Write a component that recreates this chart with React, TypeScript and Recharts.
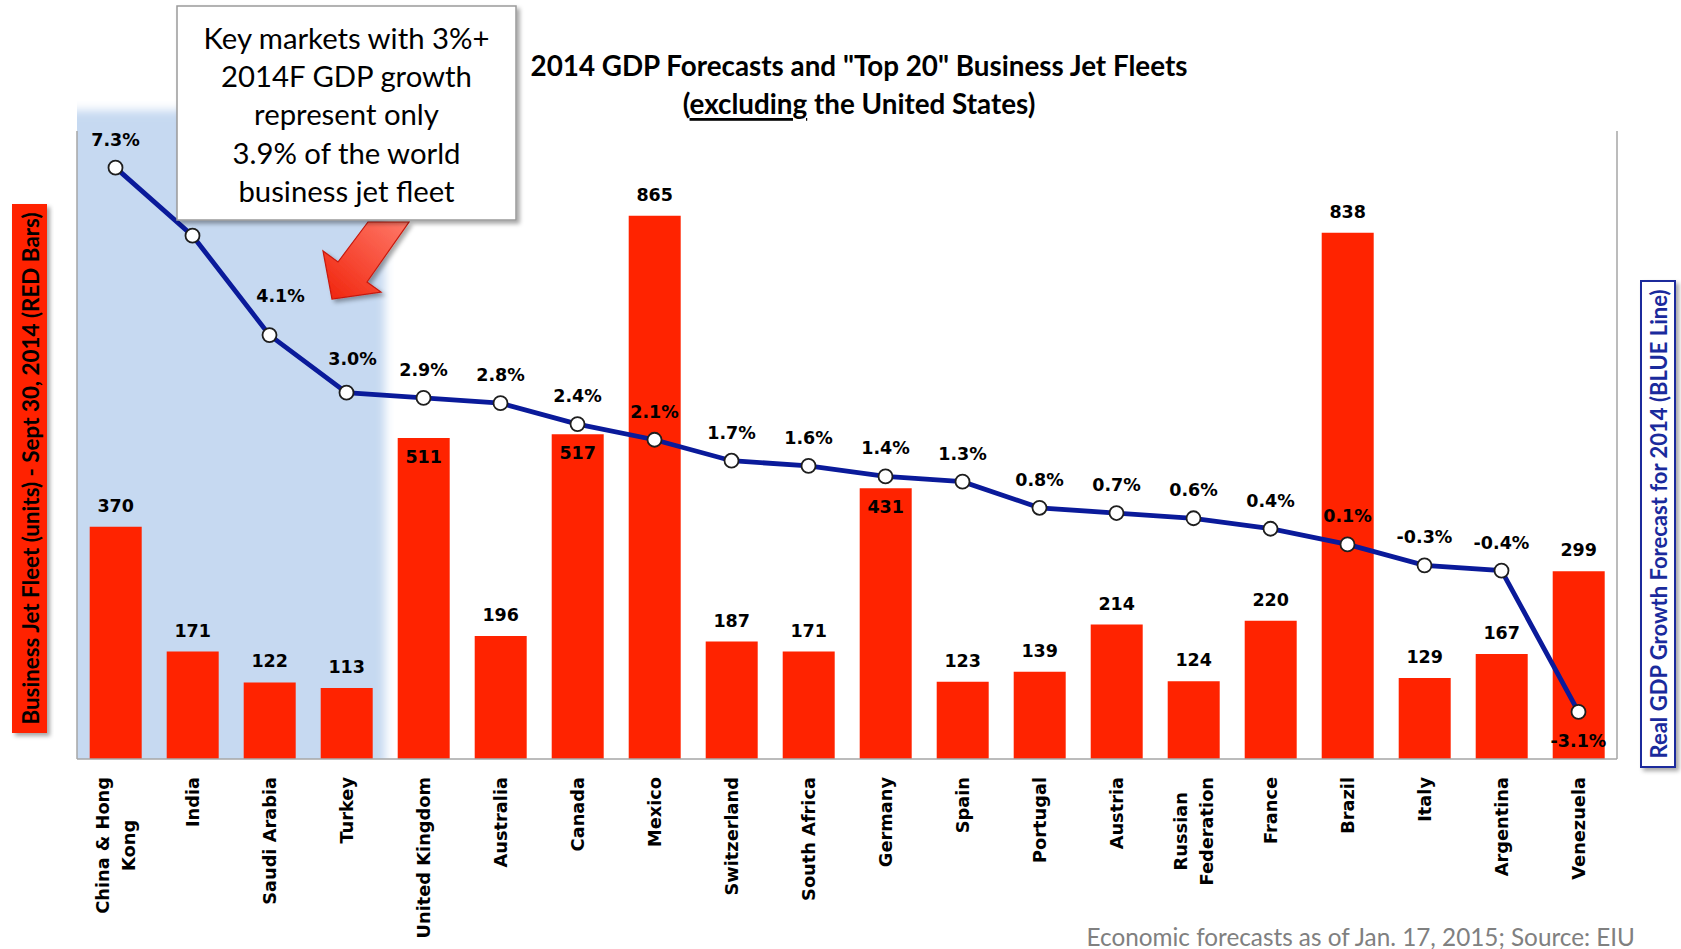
import React from "react";
import {
  ComposedChart,
  Bar,
  Line,
  XAxis,
  YAxis,
  LabelList,
  ReferenceArea,
} from "recharts";

// Top 20 business jet fleets outside the US, with 2014 GDP forecast
const countries = [
  "China & Hong\nKong",
  "India",
  "Saudi Arabia",
  "Turkey",
  "United Kingdom",
  "Australia",
  "Canada",
  "Mexico",
  "Switzerland",
  "South Africa",
  "Germany",
  "Spain",
  "Portugal",
  "Austria",
  "Russian\nFederation",
  "France",
  "Brazil",
  "Italy",
  "Argentina",
  "Venezuela",
];
const fleetUnits = [370, 171, 122, 113, 511, 196, 517, 865, 187, 171, 431, 123, 139, 214, 124, 220, 838, 129, 167, 299];
const gdpGrowth = [7.3, 6.0, 4.1, 3.0, 2.9, 2.8, 2.4, 2.1, 1.7, 1.6, 1.4, 1.3, 0.8, 0.7, 0.6, 0.4, 0.1, -0.3, -0.4, -3.1];
const fleetDomain = [0, 1000];
const growthTicks = [-4, -2, 0, 2, 4, 6, 8];
const highlighted = ["China & Hong\nKong", "Turkey"];
// bar labels that sit inside the bar top (the line runs just above them)
const insideLabels = ["United Kingdom", "Canada", "Germany"];
// India's growth label is hidden under the callout in the original
const hiddenGrowthLabels = ["India"];
// small nudges where the line is steep
const growthLabelNudge: Record<string, [number, number]> = {
  "Saudi Arabia": [11, -11],
  Turkey: [6, -6],
};

const calloutLines = [
  "Key markets with 3%+",
  "2014F GDP growth",
  "represent only",
  "3.9% of the world",
  "business jet fleet",
];

const data = countries.map((name, i) => ({
  name,
  fleet: fleetUnits[i],
  gdp: gdpGrowth[i],
}));

const RED = "#ff2300";
const BLUE = "#0a1a9a";
const AXIS = "#a6a6a6";
const LABEL_FONT = "'DejaVu Sans', Verdana, sans-serif";
const TITLE_FONT = "Lato, 'Open Sans', sans-serif";
const TICK_SIZE = 17.8;

let measureCtx: CanvasRenderingContext2D | null = null;
function textWidth(s: string) {
  if (!measureCtx) {
    measureCtx = document.createElement("canvas").getContext("2d");
  }
  if (!measureCtx) return s.length * TICK_SIZE * 0.62;
  measureCtx.font = `bold ${TICK_SIZE}px 'DejaVu Sans'`;
  return measureCtx.measureText(s).width;
}

// rotated category labels; wrapped lines are centred on each other
const CountryTick = ({ x, y, payload }: any) => {
  const lines = String(payload.value).split("\n");
  const lh = 26;
  const block = Math.max(...lines.map(textWidth));
  return (
    <g transform={`translate(${x},${y + 18}) rotate(-90)`}>
      <text textAnchor="middle" fontFamily={LABEL_FONT} fontWeight="bold" fontSize={TICK_SIZE} fill="#000">
        {lines.map((l, i) => (
          <tspan key={i} x={-block / 2} y={(i - (lines.length - 1) / 2) * lh} dominantBaseline="central">
            {l}
          </tspan>
        ))}
      </text>
    </g>
  );
};

const FleetLabel = (props: any) => {
  const { x, y, width, value, index } = props;
  const inside = insideLabels.includes(countries[index]);
  return (
    <text
      x={x + width / 2}
      y={inside ? y + 19 : y - 21}
      textAnchor="middle"
      dominantBaseline="central"
      fontFamily={LABEL_FONT}
      fontWeight="bold"
      fontSize={17.5}
      fill="#000"
    >
      {value}
    </text>
  );
};

const GrowthLabel = (props: any) => {
  const { x, y, value, index } = props;
  const name = countries[index];
  if (hiddenGrowthLabels.includes(name)) return null;
  const [dx, dy] = growthLabelNudge[name] || [0, 0];
  const below = value < -1;
  return (
    <text
      x={x + dx}
      y={(below ? y + 29 : y - 28) + dy}
      textAnchor="middle"
      dominantBaseline="central"
      fontFamily={LABEL_FONT}
      fontWeight="bold"
      fontSize={17.5}
      fill="#000"
    >
      {value.toFixed(1)}%
    </text>
  );
};

const GrowthDot = (props: any) => {
  const { cx, cy, index } = props;
  return (
    <circle key={`dot-${index}`} cx={cx} cy={cy} r={7} fill="#fff" stroke="#1e1e1e" strokeWidth={1.8} />
  );
};

// soft-edged highlight behind the 3%+ markets
const Highlight = (props: any) => {
  const { x, y, width, height } = props;
  return (
    <g>
      <defs>
        <filter id="hlBlur" x="-20%" y="-20%" width="140%" height="140%">
          <feGaussianBlur stdDeviation="5" />
        </filter>
        <clipPath id="hlClip">
          <rect x={x} y={y - 30} width={width + 30} height={height + 30} />
        </clipPath>
      </defs>
      <g clipPath="url(#hlClip)">
        <rect x={x - 20} y={y} width={width + 20} height={height + 20} fill="#c6d9f1" filter="url(#hlBlur)" />
      </g>
    </g>
  );
};

export default function App() {
  return (
    <div style={{ position: "absolute", left: 0, top: 0, width: 1681, height: 949, background: "#fff" }}>
      <ComposedChart
        width={1681}
        height={949}
        data={data}
        margin={{ top: 131, right: 63, bottom: 40, left: 76 }}
        barCategoryGap="16.5%"
      >
        <XAxis
          dataKey="name"
          interval={0}
          tickLine={false}
          tickSize={0}
          tickMargin={0}
          height={150}
          axisLine={{ stroke: AXIS, strokeWidth: 1.5 }}
          tick={<CountryTick />}
        />
        <YAxis
          yAxisId="left"
          width={1}
          domain={fleetDomain}
          tick={false}
          tickLine={false}
          axisLine={{ stroke: AXIS, strokeWidth: 1.5 }}
        />
        <YAxis
          yAxisId="right"
          orientation="right"
          width={1}
          domain={[-4, 8]}
          ticks={growthTicks}
          tick={false}
          tickSize={6}
          tickLine={{ stroke: AXIS, strokeWidth: 1.5 }}
          axisLine={{ stroke: AXIS, strokeWidth: 1.5 }}
        />
        <ReferenceArea
          yAxisId="left"
          x1={highlighted[0]}
          x2={highlighted[1]}
          y1={0}
          y2={1033}
          ifOverflow="visible"
          shape={<Highlight />}
        />
        <Bar yAxisId="left" dataKey="fleet" fill={RED} isAnimationActive={false}>
          <LabelList dataKey="fleet" content={<FleetLabel />} />
        </Bar>
        <Line
          yAxisId="right"
          dataKey="gdp"
          stroke={BLUE}
          strokeWidth={4.8}
          dot={<GrowthDot />}
          activeDot={false}
          isAnimationActive={false}
        >
          <LabelList dataKey="gdp" content={<GrowthLabel />} />
        </Line>
      </ComposedChart>

      <svg
        width={1681}
        height={949}
        style={{ position: "absolute", left: 0, top: 0, pointerEvents: "none" }}
      >
        <defs>
          <linearGradient id="arrowFill" x1="1" y1="0" x2="0" y2="1">
            <stop offset="0%" stopColor="#ff7a6a" />
            <stop offset="100%" stopColor="#f0220a" />
          </linearGradient>
          <filter id="shadow" x="-10%" y="-10%" width="130%" height="130%">
            <feDropShadow dx="3" dy="3" stdDeviation="2" floodColor="#000" floodOpacity="0.35" />
          </filter>
        </defs>

        {/* title */}
        <text x={859} y={65} textAnchor="middle" dominantBaseline="central" fontFamily={TITLE_FONT} fontWeight="bold" fontSize={27.8} fill="#000">
          2014 GDP Forecasts and "Top 20" Business Jet Fleets
        </text>
        <text x={859} y={103} textAnchor="middle" dominantBaseline="central" fontFamily={TITLE_FONT} fontWeight="bold" fontSize={27.8} fill="#000">
          (<tspan style={{ textDecoration: "underline" }}>excluding</tspan> the United States)
        </text>

        {/* arrow */}
        <polygon
          points="368,222 338,262 323,251 332,299 381,292 367,282 409,222"
          fill="url(#arrowFill)"
          stroke="#c8180a"
          strokeWidth={1.2}
          filter="url(#shadow)"
        />

        {/* callout */}
        <rect x={177} y={6} width={339} height={214} fill="#fff" stroke="#9a9a9a" strokeWidth={1.5} filter="url(#shadow)" />
        {calloutLines.map((l, i) => (
          <text key={i} x={346.5} y={37.5 + i * 38.2} textAnchor="middle" dominantBaseline="central" fontFamily={TITLE_FONT} fontSize={29.3} fill="#000">
            {l}
          </text>
        ))}

        {/* left axis title */}
        <rect x={12} y={204} width={35} height={529} fill={RED} filter="url(#shadow)" />
        <text
          transform="translate(30,468.5) rotate(-90)"
          textAnchor="middle"
          dominantBaseline="central"
          fontFamily={TITLE_FONT}
          fontWeight="bold"
          fontSize={22.4}
          fill="#000"
        >
          Business Jet Fleet (units) - Sept 30, 2014 (RED Bars)
        </text>

        {/* right axis title */}
        <rect x={1641} y={281} width={34} height={486} fill="#fff" stroke="#1a2a9c" strokeWidth={2} filter="url(#shadow)" />
        <text
          transform="translate(1658.5,524) rotate(-90)"
          textAnchor="middle"
          dominantBaseline="central"
          fontFamily={TITLE_FONT}
          fontWeight="bold"
          fontSize={22}
          fill="#1a2a9c"
        >
          Real GDP Growth Forecast for 2014 (BLUE Line)
        </text>

        {/* source */}
        <text x={1635} y={936} textAnchor="end" dominantBaseline="central" fontFamily={TITLE_FONT} fontSize={24.3} fill="#808080">
          Economic forecasts as of Jan. 17, 2015; Source: EIU
        </text>
      </svg>
    </div>
  );
}
